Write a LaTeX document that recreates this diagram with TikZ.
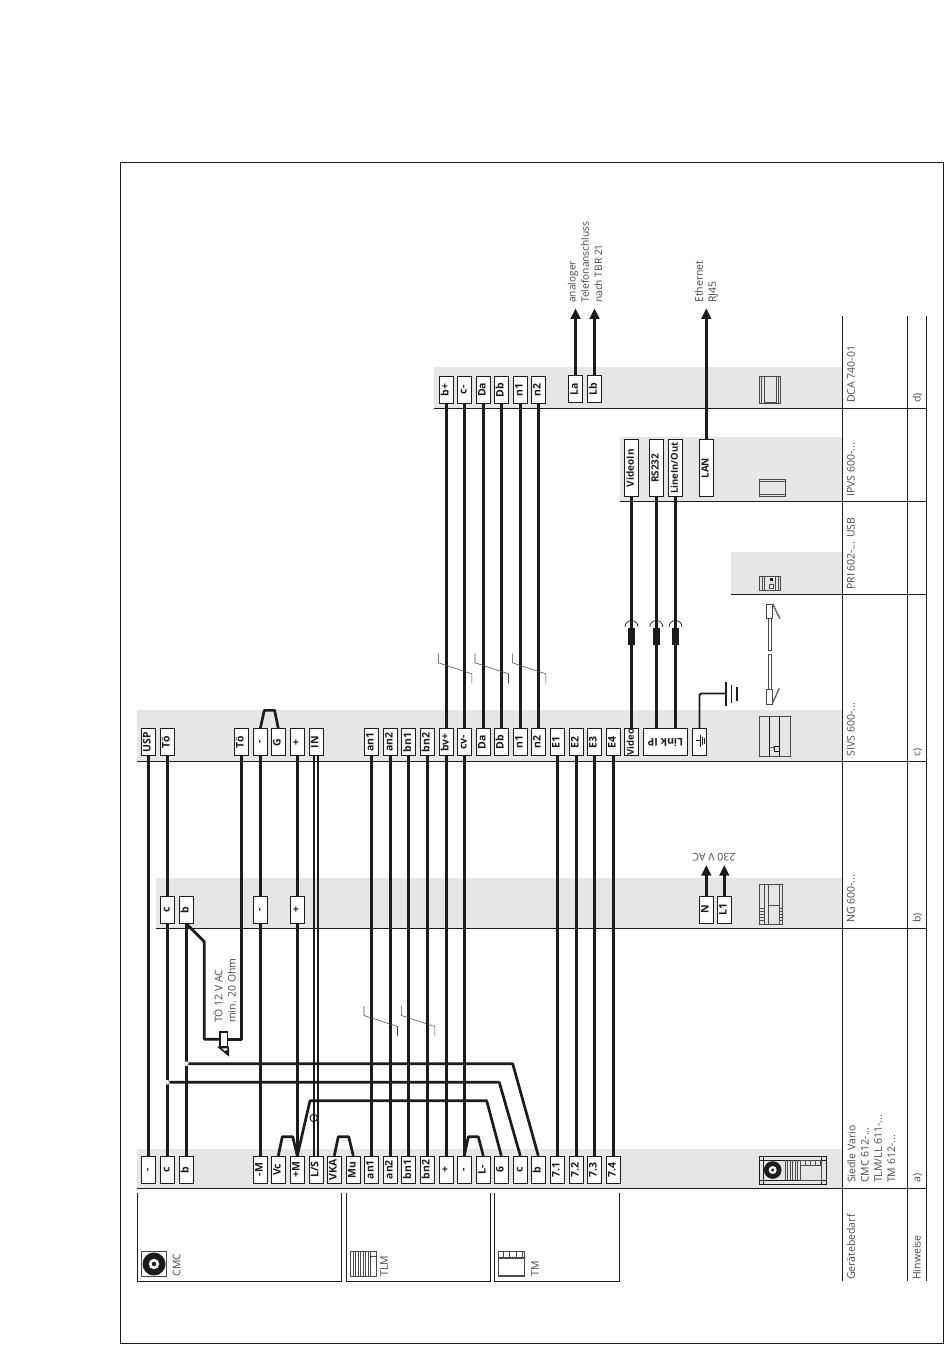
\documentclass[tikz,border=0pt]{standalone}
\usepackage{fontspec}
\usepackage{graphicx}
\setmainfont{Open Sans}
\usetikzlibrary{arrows.meta}
\definecolor{ink}{HTML}{1C1C1C}
\definecolor{band}{HTML}{E6E6E6}
\definecolor{soft}{HTML}{4A4A4A}
\tikzset{
  term/.style={draw=ink,fill=white,line width=.9,inner sep=0,minimum width=14,minimum height=27,font=\bfseries\fontsize{10.5}{12}\selectfont,text=ink},
  longterm/.style={term,minimum height=57},
  wire/.style={draw=ink,line width=2.7,line join=round},
  thinwire/.style={draw=ink,line width=1.5},
  grid/.style={draw=ink,line width=.9},
  bandfill/.style={fill=band,draw=none},
  lbl/.style={text=soft,inner sep=0,font=\fontsize{10.5}{13.3}\selectfont,align=left},
  vlbl/.style={lbl,rotate=90,anchor=west},
  slash/.style={draw=soft,line width=.55},
  icon/.style={draw=soft,line width=.7},
  iconb/.style={draw=ink,line width=.9},
  dot/.style={circle,fill=white,draw=none,inner sep=0,minimum size=4.6},
  pfeil/.style={wire,-{Triangle[length=10.5,width=9.5]}}
}
\newcommand\tm[5][term]{\node[#1] (#2) at (#3,#4) {\rotatebox{90}{\strut #5}};}
\begin{document}
\begin{tikzpicture}[x=1pt,y=-1pt]
\useasboundingbox (0,0) rectangle (950,1364);
\fill[white] (0,0) rectangle (950,1364);
% bands
\fill[bandfill] (137,1149) rectangle (843,1188);
\fill[bandfill] (156,877.5) rectangle (843,928);
\fill[bandfill] (137,710) rectangle (843,761);
\fill[bandfill] (731,552) rectangle (843,594);
\fill[bandfill] (620,437) rectangle (843,501);
\fill[bandfill] (434,367) rectangle (843,408);
% frame and table
\draw[grid] (120.5,162) rectangle (943,1343);
\draw[grid] (137,1188) -- (926.5,1188);
\draw[grid] (156,928) -- (926.5,928);
\draw[grid] (137,761) -- (926.5,761);
\draw[grid] (731,594) -- (926.5,594);
\draw[grid] (620,501) -- (926.5,501);
\draw[grid] (434,408) -- (926.5,408);
\draw[grid] (842.5,316) -- (842.5,1281);
\draw[grid] (907.5,316) -- (907.5,1281);
\draw[grid] (926.5,316) -- (926.5,1281);
\draw[grid] (137,1193) -- (137,1281.3) -- (341.5,1281.3) -- (341.5,1193);
\draw[grid] (346.5,1193) -- (346.5,1281.3) -- (490.3,1281.3) -- (490.3,1193);
\draw[grid] (494.3,1193) -- (494.3,1281.3) -- (619.3,1281.3) -- (619.3,1193);
% terminals: bottom row
\tm{am}{148.3}{1169.7}{-}
\tm{ac}{167.3}{1169.7}{c}
\tm{ab}{186.3}{1169.7}{b}
\tm{aM}{260.3}{1169.7}{-M}
\tm{aVc}{278.3}{1169.7}{Vc}
\tm{aP}{297.3}{1169.7}{+M}
\tm{aLS}{316}{1169.7}{L/S}
\tm{aVKA}{334.3}{1169.7}{VKA}
\tm{aMu}{353.3}{1169.7}{Mu}
\tm{aan}{371.3}{1169.7}{an1}
\tm{aanz}{390.3}{1169.7}{an2}
\tm{abn}{408.6}{1169.7}{bn1}
\tm{abnz}{427.3}{1169.7}{bn2}
\tm{aplus}{446.3}{1169.7}{+}
\tm{aminus}{464.3}{1169.7}{-}
\tm{aL}{483.3}{1169.7}{L-}
\tm{asix}{501.3}{1169.7}{6}
\tm{acc}{520.3}{1169.7}{c}
\tm{abb}{538.3}{1169.7}{b}
\tm{asa}{557.3}{1169.7}{7.1}
\tm{asb}{576.3}{1169.7}{7.2}
\tm{asc}{594.3}{1169.7}{7.3}
\tm{asd}{613.3}{1169.7}{7.4}
% terminals: NG row
\tm{bc}{167.3}{909.7}{c}
\tm{bb}{186.3}{909.7}{b}
\tm{bm}{260.3}{909.7}{-}
\tm{bp}{297.3}{909.7}{+}
\tm{bN}{706.3}{909.7}{N}
\tm{bL}{724.3}{909.7}{L1}
% terminals: SIVS row
\tm{cU}{148.3}{742.3}{USP}
\tm{cT}{167.3}{742.3}{Tö}
\tm{cTT}{241.3}{742.3}{Tö}
\tm{cm}{260.3}{742.3}{-}
\tm{cG}{278.3}{742.3}{G}
\tm{cp}{297.3}{742.3}{+}
\tm{cIN}{316}{742.3}{IN}
\tm{can}{371.3}{742.3}{an1}
\tm{canz}{390.3}{742.3}{an2}
\tm{cbn}{408.6}{742.3}{bn1}
\tm{cbnz}{427.3}{742.3}{bn2}
\tm{cbv}{446.3}{742.3}{bv+}
\tm{ccv}{464.3}{742.3}{cv-}
\tm{cDa}{483.3}{742.3}{Da}
\tm{cDb}{501.3}{742.3}{Db}
\tm{cna}{520.3}{742.3}{n1}
\tm{cnb}{538.3}{742.3}{n2}
\tm{cEa}{557.3}{742.3}{E1}
\tm{cEb}{576.3}{742.3}{E2}
\tm{cEc}{594.3}{742.3}{E3}
\tm{cEd}{613.3}{742.3}{E4}
\tm{cV}{631.5}{742.3}{\fontsize{9.5}{12}\selectfont Video}
\node[term,minimum width=44.4] (cIP) at (665.5,742.3) {\rotatebox{180}{Link IP}};
\node[term] (cGnd) at (699.5,742.3) {};
% terminals: DCA row
\tm{db}{446.3}{389.8}{b+}
\tm{dc}{464.3}{389.8}{c-}
\tm{dDa}{483.3}{389.8}{Da}
\tm{dDb}{501.3}{389.8}{Db}
\tm{dna}{520.3}{389.8}{n1}
\tm{dnb}{538.3}{389.8}{n2}
\tm{dLa}{575.5}{389.3}{La}
\tm{dLb}{594.5}{389.3}{Lb}
% terminals: IPVS row
\tm[longterm]{eV}{631.5}{468.3}{\fontsize{10}{12}\selectfont VideoIn}
\tm[longterm]{eR}{656.3}{468.3}{\fontsize{10}{12}\selectfont RS232}
\tm[longterm]{eI}{675.5}{468.3}{\fontsize{9.5}{12}\selectfont LineIn/Out}
\tm[longterm]{eL}{706.3}{468.3}{\fontsize{10}{12}\selectfont LAN}
% wires bottom to SIVS / NG
\draw[wire] (am.north) -- (cU.south);
\draw[wire] (ac.north) -- (bc.south);
\draw[wire] (bc.north) -- (cT.south);
\draw[wire] (ab.north) -- (bb.south);
\draw[wire] (aM.north) -- (bm.south);
\draw[wire] (bm.north) -- (cm.south);
\draw[wire] (aP.north) -- (bp.south);
\draw[wire] (bp.north) -- (cp.south);
\draw[thinwire] ([xshift=-2pt]aLS.north) -- ([xshift=-2pt]cIN.south);
\draw[thinwire] ([xshift=2pt]aLS.north) -- ([xshift=2pt]cIN.south);
\draw[wire] (aan.north) -- (can.south);
\draw[wire] (aanz.north) -- (canz.south);
\draw[wire] (abn.north) -- (cbn.south);
\draw[wire] (abnz.north) -- (cbnz.south);
\draw[wire] (aplus.north) -- (cbv.south);
\draw[wire] (aminus.north) -- (ccv.south);
\draw[wire] (asa.north) -- (cEa.south);
\draw[wire] (asb.north) -- (cEb.south);
\draw[wire] (asc.north) -- (cEc.south);
\draw[wire] (asd.north) -- (cEd.south);
% bridges
\draw[wire] (aVc.north) -- ++(4,-19) -- ++(10.4,0) -- (aP.north);
\draw[wire] (aVKA.north) -- ++(4,-19) -- ++(10.4,0) -- (aMu.north);
\draw[wire] (aminus.north) -- ++(4,-19) -- ++(10,0) -- (aL.north);
\draw[wire] (cm.north) -- ++(4,-18) -- ++(10.3,0) -- (cG.north);
% long returns
\coordinate (sixa) at (486.7,1100.7);
\coordinate (sixb) at (310,1100.7);
\draw[wire] (asix.north) -- (sixa) -- (sixb) -- (aP.north);
\coordinate (cca) at (499.3,1082.3);
\coordinate (ccj) at (167.3,1082.3);
\draw[wire] (acc.north) -- (cca) -- (ccj);
\coordinate (bba) at (512.7,1063.7);
\coordinate (bbj) at (186.3,1063.7);
\draw[wire] (abb.north) -- (bba) -- (bbj);
\node[dot] (jc) at (ccj) {};
\node[dot] (jb) at (bbj) {};
\draw[thinwire,line width=.9,fill=none] (313.7,1118) circle (3.7);
% loudspeaker
\node[draw=ink,fill=white,line width=1.6,inner sep=0,minimum width=7.3,minimum height=15] (res) at (223.7,1039.2) {};
\coordinate (bk) at (204.3,941.7);
\draw[wire] (bb.south) -- (bk) |- (res.west);
\draw[wire] (res.east) -| (cTT.south);
\draw[draw=ink,fill=white,line width=1.6,line join=miter] (res.south west) -- (228.3,1055) -- (res.south east) -- cycle;
\fill[ink] (224.5,1051) -- (228,1054.5) -- (227.6,1050) -- cycle;
% SIVS to DCA
\draw[wire] (cbv.north) -- (db.south);
\draw[wire] (ccv.north) -- (dc.south);
\draw[wire] (cDa.north) -- (dDa.south);
\draw[wire] (cDb.north) -- (dDb.south);
\draw[wire] (cna.north) -- (dna.south);
\draw[wire] (cnb.north) -- (dnb.south);
% SIVS to IPVS
\draw[wire] (cV.north) -- (eV.south);
\draw[wire] (eR.south) -- (eR.south |- cIP.north);
\draw[wire] (eI.south) -- (eI.south |- cIP.north);
\foreach \xc in {631.5,656.3,675.5}{
  \fill[ink] (\xc-3.6,628) rectangle (\xc+3.6,644.7);
  \draw[draw=ink,line width=.7] (\xc-6.5,627) arc[start angle=180,end angle=360,radius=6.5];
}
% ground
\coordinate (gb) at (726,693.5);
\draw[wire,line width=1.8,rounded corners=1.5] (cGnd.north) |- (gb);
\draw[draw=ink,line width=1.6] (726,681.7) -- (726,706);
\draw[draw=ink,line width=1.6] (731.6,685) -- (731.6,703);
\draw[draw=ink,line width=1.6] (736.7,687.3) -- (736.7,701);
\draw[draw=ink,line width=.7] (696,740.7) -- (700,740.7) (700,734.5) -- (700,747) (702.4,736.5) -- (702.4,745) (704.7,738) -- (704.7,743.5);
% arrows
\coordinate (ta) at (575.5,308.3);
\coordinate (tb) at (594.5,308.3);
\coordinate (te) at (706.3,308.3);
\coordinate (tn) at (706.3,865);
\coordinate (tl) at (724.3,865);
\draw[pfeil] (dLa.north) -- (ta);
\draw[pfeil] (dLb.north) -- (tb);
\draw[pfeil] (eL.north) -- (te);
\draw[pfeil] (bN.north) -- (tn);
\draw[pfeil] (bL.north) -- (tl);
% slashes
\foreach \xa/\ya in {438.3/653.3,475/653.3,512.3/653.3,364/1006,401.3/1006}{
  \draw[slash] (\xa,\ya) -- ++(0,9.5) -- ++(33.5,11) -- ++(0,9.5);
}
% labels
\node[lbl,rotate=90,anchor=west,font=\fontsize{10.2}{13.3}\selectfont] (ltel) at (585,303) {analoger\\Telefonanschluss\\nach TBR 21};
\node[lbl,rotate=90,anchor=west] (leth) at (706.5,303) {Ethernet\\RJ45};
\node[lbl,rotate=180] (lac) at (714,857) {230 V AC};
\node[lbl,rotate=90,anchor=west] (lton) at (224.3,1023) {TÖ 12 V AC\\min. 20 Ohm};
\node[vlbl] (lcmc) at (176.5,1276.5) {CMC};
\node[vlbl] (ltlm) at (384,1276.5) {TLM};
\node[vlbl] (ltm) at (535,1276.5) {TM};
\node[vlbl] (lgb) at (851,1280) {Gerätebedarf};
\node[vlbl] (lsv) at (871.3,1183) {Siedle Vario\\CMC 612-...\\TLM/LL 611-...\\TM 612-...};
\node[vlbl] (lng) at (851,923) {NG 600-...};
\node[vlbl] (lsi) at (851,756.5) {SIVS 600-...};
\node[vlbl] (lpr) at (851,590) {PRI 602-... USB};
\node[vlbl] (lip) at (851,497) {IPVS 600-...};
\node[vlbl] (ldc) at (851,403) {DCA 740-01};
\node[vlbl] (lhi) at (916.7,1280) {Hinweise};
\node[vlbl] (la) at (917.5,1183) {a)};
\node[vlbl] (lb) at (917.5,923) {b)};
\node[vlbl] (lc) at (917.5,756.5) {c)};
\node[vlbl] (ld) at (917.5,403) {d)};
% icon CMC
\draw[icon] (141.3,1251.3) rectangle (166.7,1276.7);
\fill[ink] (154,1264) circle (11.5);
\fill[white] (154,1264) circle (5.2);
\fill[ink] (154,1264) circle (2.2);
% icon TLM
\draw[icon] (350,1251.3) rectangle (376,1276.7);
\foreach \xv in {353,355.5,358,360.5,363,365.5,368,370.5}{\draw[icon,line width=.6] (\xv,1251.3) -- (\xv,1276.7);}
\draw[icon] (370.5,1256) -- (376,1256);
\fill[ink] (370.5,1257) circle (.9);
% icon TM
\draw[icon] (498.3,1251) rectangle (524.7,1276.3);
\draw[draw=soft,line width=1.6] (498.3,1275.7) -- (524.7,1275.7);
\draw[draw=soft,line width=1.2] (498.3,1258) -- (524.7,1258);
\foreach \xv in {503,509.7,516.3,522}{\draw[icon] (\xv,1251) -- (\xv,1258);}
% icon Vario
\draw[iconb] (759,1156) rectangle (826.3,1184);
\draw[iconb,line width=.7] (763.3,1156) -- (763.3,1184) (821.7,1156) -- (821.7,1184) (759,1160) -- (826.3,1160) (759,1180) -- (826.3,1180);
\fill[ink] (772.7,1170) circle (8.8);
\fill[white] (772.7,1170) circle (4);
\fill[ink] (772.7,1170) circle (1.7);
\foreach \xv in {785,787.5,790,792.5,795,797.5}{\draw[icon] (\xv,1160) -- (\xv,1180);}
\draw[icon] (800,1160) rectangle (821.7,1180) (800,1165.5) -- (821.7,1165.5);
\foreach \xv in {805,810,815,820}{\draw[icon] (\xv,1160) -- (\xv,1165.5);}
% icon NG
\draw[icon] (759,884) rectangle (782.3,924);
\draw[icon] (764,884) -- (764,924) (768,884) -- (768,924) (779.3,884) -- (779.3,924) (768,905.7) -- (779.3,905.7);
\foreach \yv in {908,911,914,917,920}{\draw[icon,line width=.5] (759,\yv) -- (764,\yv) (779.3,\yv) -- (782.3,\yv);}
% icon SIVS
\draw[icon] (759,716.7) rectangle (790.7,756.7);
\draw[iconb,line width=.7] (769.3,716.7) -- (769.3,756.7) (779.3,716.7) -- (779.3,756.7);
\draw[iconb,line width=.8] (774.3,746.7) rectangle (779.3,751);
\fill[ink] (771.5,747.5) circle (.7) (773.3,747.5) circle (.7);
% icon cable
\draw[icon] (766,604) rectangle (772.7,618.3);
\draw[icon] (768,618.3) rectangle (771.3,650.7);
\draw[icon] (768,654) rectangle (771.3,689.3);
\draw[icon] (766,689.3) rectangle (772.7,704);
\draw[draw=soft,line width=1.5,dash pattern=on 1.5pt off .6pt] (772.7,604) -- (780,619);
\draw[draw=soft,line width=1.5,dash pattern=on 1.5pt off .6pt] (772.7,702.7) -- (779.3,688.3);
% icon PRI
\draw[icon] (759,576) rectangle (780.7,590);
\draw[icon] (762,576) -- (762,590) (764,576) -- (764,590) (775.5,576) -- (775.5,590) (778,576) -- (778,590);
\fill[ink] (770,578) rectangle (772.5,581);
\draw[icon] (769.5,584) rectangle (773,588);
% icon IPVS
\draw[icon] (759.3,479.3) rectangle (785.3,496.7);
\draw[icon] (759.3,481.3) -- (785.3,481.3) (759.3,494.7) -- (785.3,494.7);
% icon DCA
\draw[icon] (759.3,376) rectangle (780.7,403.3);
\draw[icon] (761.5,376) -- (761.5,403.3) (764,376) -- (764,403.3) (776,376) -- (776,403.3) (778.3,376) -- (778.3,403.3);
\draw[draw=soft,line width=1.2] (764,376.7) -- (776,376.7) (764,402.7) -- (776,402.7) (764.7,390) -- (764.7,403);
\end{tikzpicture}
\end{document}
